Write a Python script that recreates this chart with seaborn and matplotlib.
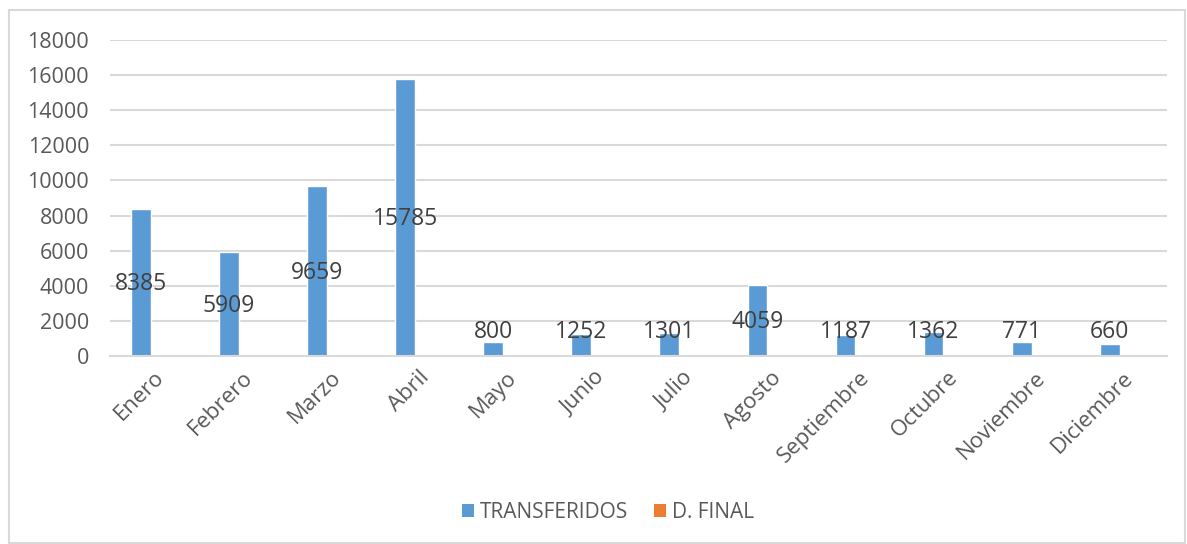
import matplotlib
matplotlib.use("Agg")
import matplotlib.pyplot as plt
from matplotlib.patches import Rectangle, Patch
import seaborn as sns
import pandas as pd

# Monthly totals per series
meses = ["Enero", "Febrero", "Marzo", "Abril", "Mayo", "Junio", "Julio",
         "Agosto", "Septiembre", "Octubre", "Noviembre", "Diciembre"]
transferidos = [8385, 5909, 9659, 15785, 800, 1252, 1301, 4059, 1187, 1362, 771, 660]
d_final = [0, 0, 0, 0, 0, 0, 0, 0, 0, 0, 0, 0]
series = ["TRANSFERIDOS", "D. FINAL"]
colores = ["#5B9BD5", "#ED7D31"]
y_ticks = [0, 2000, 4000, 6000, 8000, 10000, 12000, 14000, 16000, 18000]

df = pd.DataFrame({
    "mes": meses * 2,
    "valor": transferidos + d_final,
    "serie": [series[0]] * len(meses) + [series[1]] * len(meses),
})

sns.set_theme(style="white")
plt.rcParams["font.family"] = ["Open Sans", "DejaVu Sans"]
texto = "#595959"
grid = "#D9D9D9"

fig = plt.figure(figsize=(11.87, 5.44), dpi=100)
ax = fig.add_axes([110 / 1187, 1 - 356 / 544, (1167 - 110) / 1187, (356 - 40) / 544])

sns.barplot(data=df, x="mes", y="valor", hue="serie", order=meses,
            hue_order=series, palette=colores, width=0.6, gap=0.25,
            saturation=1, legend=False, ax=ax)

ax.set_ylim(0, 18000)
ax.set_xlim(-0.5, len(meses) - 0.5)
ax.set_yticks(y_ticks)
ax.set_yticklabels([str(t) for t in y_ticks], color=texto, fontsize=15.5)
ax.yaxis.grid(True, color=grid, linewidth=1.5)
ax.set_axisbelow(True)
for s in ["left", "right", "top"]:
    ax.spines[s].set_visible(False)
ax.spines["bottom"].set_color(grid)
ax.spines["bottom"].set_linewidth(1.5)
ax.tick_params(axis="y", length=0, pad=15)
ax.tick_params(axis="x", length=0, pad=8)
ax.set_xlabel("")
ax.set_ylabel("")
ax.set_xticks(range(len(meses)))
ax.set_xticklabels(meses, rotation=45, ha="right", va="top",
                   rotation_mode="anchor", color=texto, fontsize=16)

# Value labels on the TRANSFERIDOS bars
for bar, v in zip(ax.containers[0], transferidos):
    cx = bar.get_x() + bar.get_width() / 2
    ax.text(cx, max(v / 2 - 100, 1380), str(v), ha="center", va="center",
            color="#404040", fontsize=16.5)

handles = [Patch(facecolor=c, edgecolor="none") for c in colores]
fig.legend(handles, series, loc="center", bbox_to_anchor=(608 / 1187, 1 - 512 / 544),
           ncol=2, frameon=False, fontsize=15, handlelength=0.6, handleheight=0.6,
           handletextpad=0.3, columnspacing=1.2, labelcolor=texto)

fig.patches.append(Rectangle((9 / 1187, 1 - 543 / 544), (1185 - 9) / 1187, (543 - 10) / 544,
                             transform=fig.transFigure, fill=False,
                             edgecolor=grid, linewidth=1.5))

fig.savefig("out.png", dpi=100, facecolor="white")
